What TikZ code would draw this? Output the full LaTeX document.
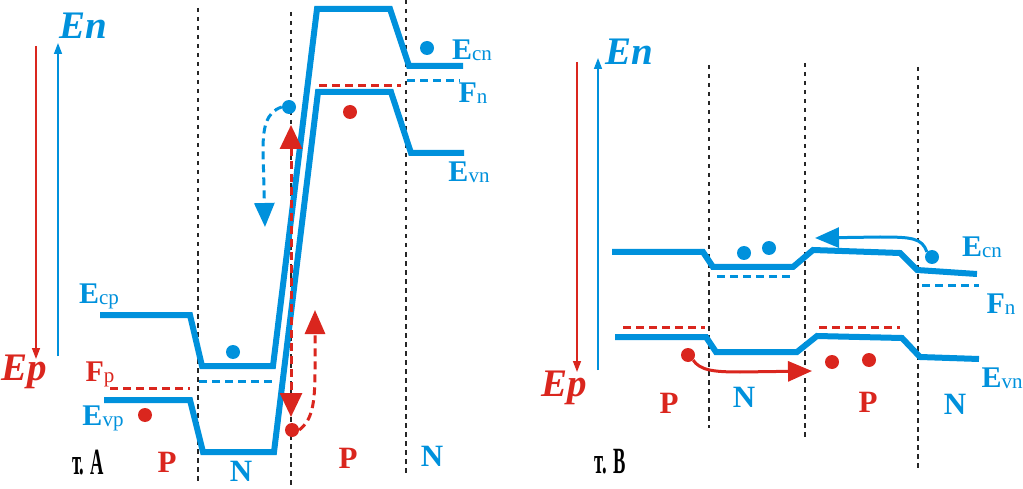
\documentclass[tikz,border=0pt]{standalone}
\usepackage{fontspec}
\usepackage{graphicx}
\setmainfont{Liberation Serif}
\usetikzlibrary{arrows.meta}
\definecolor{bl}{RGB}{0,145,220}
\definecolor{rd}{RGB}{218,38,30}
\tikzset{
  band/.style={bl, line width=6pt, line join=miter},
  divider/.style={black!85, line width=2pt, dash pattern=on 4.5pt off 4.5pt},
  bdash/.style={bl, line width=3pt, dash pattern=on 8pt off 5pt},
  rdash/.style={rd, line width=3pt, dash pattern=on 8pt off 5pt},
  bigtip/.style={-{Triangle[length=24pt,width=20pt]}},
  edot/.style={circle, fill=bl, inner sep=0pt, minimum size=14pt},
  hdot/.style={circle, fill=rd, inner sep=0pt, minimum size=14pt},
  axis/.style={line width=1.5pt, -{Triangle[length=11pt,width=8pt]}},
  elbl/.style={bl, inner sep=0pt, font=\fontsize{30}{30}\selectfont\bfseries},
  rlbl/.style={rd, inner sep=0pt, font=\fontsize{30}{30}\selectfont\bfseries},
  axlbl/.style={inner sep=0pt, font=\fontsize{39}{39}\selectfont\bfseries\itshape},
  region/.style={inner sep=0pt, font=\fontsize{31}{31}\selectfont\bfseries},
  caplbl/.style={inner sep=0pt, black, font=\fontsize{37}{37}\selectfont\bfseries},
}
\newcommand{\sbs}[1]{{\fontsize{21}{21}\selectfont\mdseries\raisebox{-1pt}{#1}}}
\begin{document}
\begin{tikzpicture}[x=1pt,y=-1pt]
\useasboundingbox (0,0) rectangle (1023,489);

% ================= Panel A =================
\coordinate (epAtop) at (36,46);
\coordinate (epAbot) at (36,359);
\coordinate (enAbot) at (58,356);
\coordinate (enAtop) at (58,43);
\draw[axis, rd] (epAtop) -- (epAbot);
\draw[axis, bl] (enAbot) -- (enAtop);
\node[axlbl, bl] (enA) at (83,26) {En};
\node[axlbl, rd] (epA) at (24,372) {Ep};

\draw[divider] (198,8) -- (198,482);
\draw[divider] (291,12) -- (291,489);
\draw[divider] (406,0) -- (406,476);

\draw[band] (100,315) -- (190,315) -- (202,366) -- (273,366) -- (317,9) -- (390,9) -- (409,66) -- (463,66);
\draw[band] (104,400) -- (190,400) -- (203,452) -- (274,452) -- (318,92) -- (391,92) -- (411,153) -- (464,153);

\draw[rdash] (110,388) -- (190,388);
\draw[bdash] (199,381) -- (276,381);
\draw[rdash] (319,86) -- (401,86);
\draw[bdash] (407,81) -- (460,81);

\node[edot] (eA1) at (233,352) {};
\node[hdot] (hA1) at (145,415) {};
\node[edot] (eA2) at (427,48) {};
\node[hdot] (hA2) at (350,112) {};
\node[edot] (eA3) at (289,107) {};
\node[hdot] (hA3) at (292,430) {};

\coordinate (bA) at (265,227);
\draw[bdash, bigtip] (eA3.west) .. controls (266,112) and (263,128) .. (263,150) -- (bA);
\coordinate (rAt) at (291,125);
\coordinate (rAb) at (291,417);
\draw[rdash, {Triangle[length=24pt,width=22pt]}-{Triangle[length=24pt,width=22pt]}] (rAt) -- (rAb);
\coordinate (rAc) at (315,310);
\draw[rdash, bigtip] (hA3.east) .. controls (312,420) and (315,405) .. (315,370) -- (rAc);

\node[elbl] (ecp) at (99,296) {E\sbs{cp}};
\node[rlbl] (fp) at (100,374) {F\sbs{p}};
\node[elbl] (evp) at (103,418) {E\sbs{vp}};
\node[elbl] (ecnA) at (472,50) {E\sbs{cn}};
\node[elbl] (fnA) at (473,93) {F\sbs{n}};
\node[elbl] (evnA) at (469,172) {E\sbs{vn}};
\node[region, rd] (pA1) at (167,462) {P};
\node[region, bl] (nA1) at (241,471) {N};
\node[region, rd] (pA2) at (348,458) {P};
\node[region, bl] (nA2) at (432,456) {N};
\node[caplbl] (capA) at (88,463) {\scalebox{0.5}[1]{т. А}};

% ================= Panel B =================
\coordinate (epBtop) at (577,62);
\coordinate (epBbot) at (577,372);
\coordinate (enBbot) at (598,370);
\coordinate (enBtop) at (598,58);
\draw[axis, rd] (epBtop) -- (epBbot);
\draw[axis, bl] (enBbot) -- (enBtop);
\node[axlbl, bl] (enB) at (629,52) {En};
\node[axlbl, rd] (epB) at (564,388) {Ep};

\draw[divider] (709,65) -- (709,428);
\draw[divider] (805,63) -- (805,439);
\draw[divider] (918,67) -- (918,469);

\draw[band] (612,252) -- (703,252) -- (713,267) -- (793,267) -- (813,250) -- (900,253) -- (917,270) -- (977,274);
\draw[band] (615,337) -- (706,337) -- (716,352) -- (797,352) -- (817,336) -- (902,338) -- (920,357) -- (979,359);

\draw[bdash] (717,276) -- (792,276);
\draw[bdash] (922,285) -- (979,285);
\draw[rdash] (623,327) -- (705,327);
\draw[rdash] (819,327) -- (900,327);

\node[edot] (eB1) at (744,253) {};
\node[edot] (eB2) at (769,248) {};
\node[edot] (eB3) at (932,257) {};
\node[hdot] (hB1) at (688,355) {};
\node[hdot] (hB2) at (832,362) {};
\node[hdot] (hB3) at (869,360) {};

\coordinate (bB) at (815,238);
\draw[bl, line width=3pt, -{Triangle[length=24pt,width=20pt]}] (eB3.north west) .. controls (922,238) and (912,237) .. (880,237) -- (bB);
\coordinate (rB) at (812,371);
\draw[rd, line width=3pt, -{Triangle[length=24pt,width=20pt]}] (hB1.south east) .. controls (700,370) and (712,372) .. (740,372) -- (rB);

\node[elbl] (ecnB) at (982,247) {E\sbs{cn}};
\node[elbl] (fnB) at (1001,304) {F\sbs{n}};
\node[elbl] (evnB) at (1002,378) {E\sbs{vn}};
\node[region, rd] (pB1) at (669,403) {P};
\node[region, bl] (nB1) at (744,397) {N};
\node[region, rd] (pB2) at (868,402) {P};
\node[region, bl] (nB2) at (955,404) {N};
\node[caplbl] (capB) at (610,462) {\scalebox{0.5}[1]{т. В}};
\end{tikzpicture}
\end{document}
